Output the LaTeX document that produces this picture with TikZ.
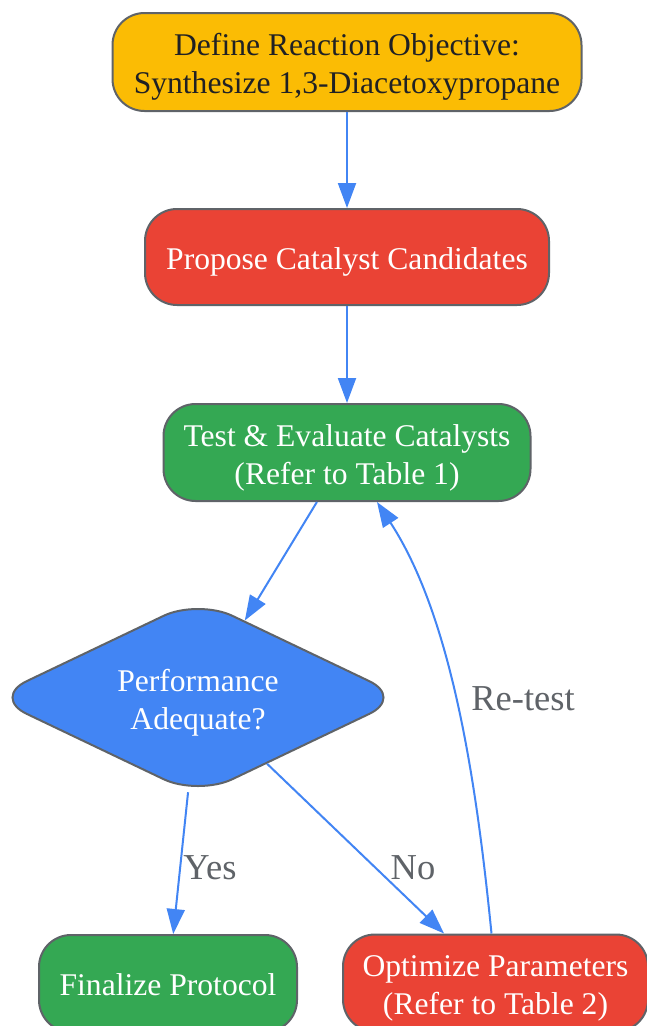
\documentclass[tikz,border=0pt]{standalone}
\usepackage{fontspec}
\setmainfont{Liberation Serif}
\usetikzlibrary{shapes.geometric,arrows.meta,calc}
\definecolor{gyellow}{HTML}{FBBC04}
\definecolor{gred}{HTML}{EA4335}
\definecolor{ggreen}{HTML}{34A853}
\definecolor{gblue}{HTML}{4285F4}
\definecolor{gborder}{HTML}{5F6368}
\definecolor{gtext}{HTML}{202124}
\definecolor{glabel}{HTML}{5F6368}
\begin{document}
\begin{tikzpicture}[x=1pt,y=-1pt,
  box/.style={draw=gborder,line width=2pt,rounded corners=32pt,inner sep=0pt,align=center,
    font=\fontsize{31.6}{38}\selectfont},
  oneline/.style={text height=30pt,text depth=6pt},
  twoline/.style={text height=69pt,text depth=6pt},
  decision/.style={diamond,draw=gborder,line width=2pt,fill=gblue,rounded corners=38pt,
    aspect=2.12,minimum width=412pt,minimum height=197pt,inner sep=0pt,align=center,text=white,
    font=\fontsize{31.6}{38}\selectfont},
  arr/.style={draw=gblue,line width=2pt,-{Triangle[length=25pt,width=18pt]}},
  lbl/.style={text=glabel,inner sep=0pt,font=\fontsize{36.5}{44}\selectfont}]
\useasboundingbox (0,0) rectangle (647,1026);
\fill[white] (0,0) rectangle (647,1026);

\node[box,twoline,fill=gyellow,text=gtext,minimum width=469pt,minimum height=98pt] (def) at (347,62)
  {Define Reaction Objective:\\Synthesize 1,3-Diacetoxypropane};
\node[box,oneline,fill=gred,text=white,minimum width=404pt,minimum height=96pt] (prop) at (347,257)
  {Propose Catalyst Candidates};
\node[box,twoline,fill=ggreen,text=white,minimum width=367pt,minimum height=97pt] (test) at (347,452.5)
  {Test \& Evaluate Catalysts\\(Refer to Table 1)};
\node[decision,twoline] (dia) at (198,697.5) {Performance\\Adequate?};
\node[box,oneline,fill=ggreen,text=white,minimum width=258pt,minimum height=97pt] (fin) at (168,983.5)
  {Finalize Protocol};
\node[box,twoline,fill=gred,text=white,minimum width=305pt,minimum height=97pt] (opt) at (495.5,983)
  {Optimize Parameters\\(Refer to Table 2)};

\draw[arr] (def) -- (prop);
\draw[arr] (prop) -- (test);
\draw[arr] (test) -- (dia);
\draw[arr] (dia) -- (fin);
\draw[arr] (dia) -- (opt);
\draw[arr] ([xshift=-4pt]opt.north) .. controls +(-14,-140) and +(77,118) .. ([xshift=30pt]test.south);

\node[lbl] (ylab) at (210,868) {Yes};
\node[lbl] (nlab) at (413,868) {No};
\node[lbl] (rlab) at (523,699) {Re-test};
\end{tikzpicture}
\end{document}
